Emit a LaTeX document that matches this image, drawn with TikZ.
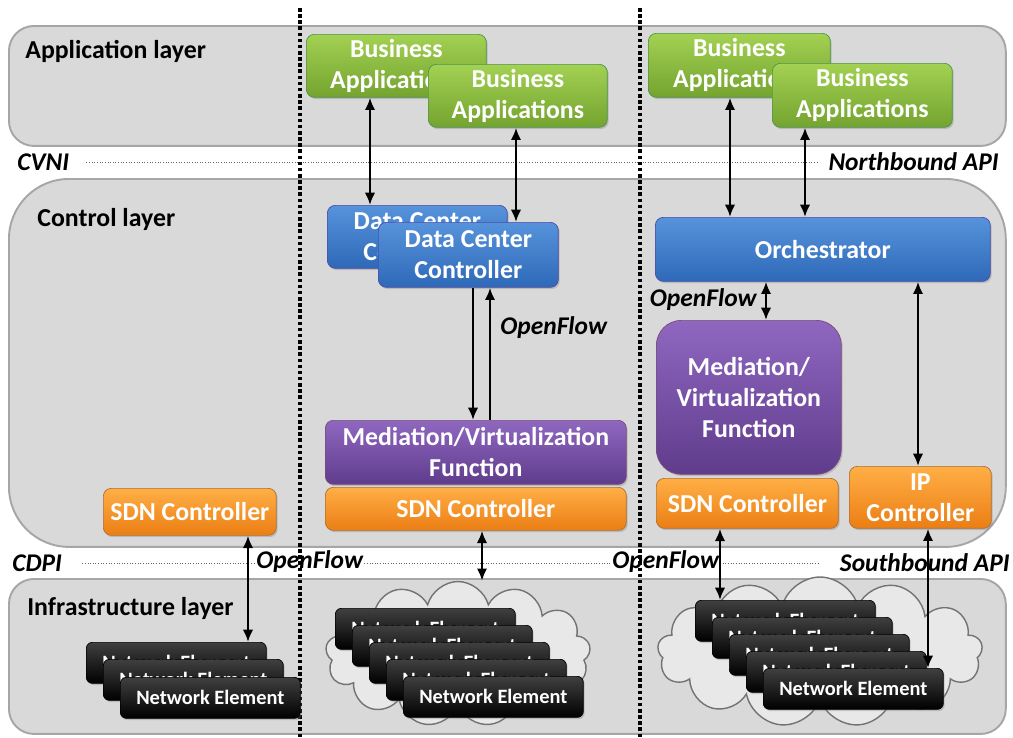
\documentclass[tikz,border=0pt]{standalone}
\usepackage{fontspec}
\setmainfont{Carlito}
\usetikzlibrary{shapes.symbols,shadows,arrows.meta}

\definecolor{fondcouche}{HTML}{D9D9D9}
\definecolor{bordcouche}{HTML}{A6A6A6}

\tikzstyle{couche} = [rectangle, draw=bordcouche, fill=fondcouche, line width=1.1pt, anchor=north west, inner sep=0pt]
\tikzstyle{titre} = [anchor=west, inner sep=0pt, font=\fontsize{14.7}{17}\selectfont\bfseries]
\tikzstyle{api} = [inner sep=0pt, font=\fontsize{14.5}{17}\selectfont\bfseries\itshape]
\tikzstyle{interface} = [draw=black!60, line width=0.5pt, densely dotted]
\tikzstyle{separation} = [line width=2pt, dash pattern=on 2pt off 1.5pt]
\tikzstyle{bloc} = [rectangle, rounded corners=0.16cm, anchor=north west, text=white, align=center, inner sep=1pt, line width=0.4pt, font=\fontsize{14.7}{17.6}\selectfont\bfseries, drop shadow={shadow xshift=0.8pt, shadow yshift=-1pt, opacity=0.35}]
\tikzstyle{appli} = [bloc, draw=green!40!black!70, top color={rgb,255:red,163;green,209;blue,82}, bottom color={rgb,255:red,116;green,163;blue,48}]
\tikzstyle{ctrl} = [bloc, draw=blue!50!black!70, top color={rgb,255:red,86;green,147;blue,219}, bottom color={rgb,255:red,46;green,105;blue,184}]
\tikzstyle{media} = [bloc, draw=violet!50!black!70, top color={rgb,255:red,143;green,103;blue,192}, bottom color={rgb,255:red,96;green,60;blue,140}]
\tikzstyle{sdn} = [bloc, draw=orange!60!black!80, top color={rgb,255:red,255;green,175;blue,70}, bottom color={rgb,255:red,235;green,126;blue,20}]
\tikzstyle{elem} = [bloc, rounded corners=0.12cm, draw=black, top color=black!75, bottom color=black, minimum width=3.6cm, minimum height=0.82cm, font=\fontsize{11.6}{13}\selectfont\bfseries]
\tikzstyle{nuage} = [cloud, cloud puffs=13, cloud ignores aspect, draw=black!55, fill=black!9, line width=0.8pt]
\tikzstyle{fleche} = [line width=1.5pt, >={Latex[length=7pt,width=6pt]}]

\begin{document}
\begin{tikzpicture}[x=0.02cm, y=-0.02cm]
\useasboundingbox (0,0) rectangle (1013,737);

% les trois couches
\node [couche, rounded corners=0.5cm, minimum width=19.94cm, minimum height=2.4cm] (applayer) at (8,25) {};
\node [couche, rounded corners=1.2cm, minimum width=19.94cm, minimum height=7.36cm] (ctrllayer) at (8,178) {};
\node [couche, rounded corners=0.5cm, minimum width=19.94cm, minimum height=3.1cm] (infralayer) at (8,578) {};
\node [titre] (appname) at (25,51) {Application layer};
\node [titre] (ctrlname) at (37,219) {Control layer};
\node [titre] (infraname) at (27,608) {Infrastructure layer};

% interfaces nord et sud
\node [api, anchor=west] (cvni) at (17,162) {CVNI};
\node [api, anchor=east] (nbapi) at (999,162) {Northbound API};
\node [api, anchor=west] (cdpi) at (12,563) {CDPI};
\node [api, anchor=east] (sbapi) at (1010,563) {Southbound API};
\draw [interface] ([xshift=0.34cm]cvni.east) -- ([xshift=-0.2cm]nbapi.west);
\draw [interface] ([xshift=0.4cm]cdpi.east) -- ([xshift=-0.4cm]sbapi.west);
\node [api, anchor=west, fill=white] (ofL) at (256,562) {OpenFlow};
\node [api, anchor=west, fill=white] (ofR) at (612,562) {OpenFlow};

\draw [separation] (300,8) -- (300,737);
\draw [separation] (640,8) -- (640,737);

% colonne de gauche
\node [sdn, minimum width=3.46cm, minimum height=0.94cm] (sdnL) at (103,488) {SDN Controller};
\node [elem] (neL1) at (86,642) {Network Element};
\node [elem] (neL2) at (103,659) {Network Element};
\node [elem] (neL3) at (120,677) {Network Element};

% colonne du milieu
\node [appli, minimum width=3.6cm, minimum height=1.26cm] (baM1) at (306,34) {Business\\Applications};
\node [appli, minimum width=3.58cm, minimum height=1.26cm] (baM2) at (428,64) {Business\\Applications};
\node [ctrl, minimum width=3.6cm, minimum height=1.26cm] (dcM1) at (327,205) {Data Center\\Controller};
\node [ctrl, minimum width=3.6cm, minimum height=1.3cm] (dcM2) at (378,222) {Data Center\\Controller};
\node [media, minimum width=6.02cm, minimum height=1.28cm] (medM) at (325,420) {Mediation/Virtualization\\Function};
\node [sdn, minimum width=6.02cm, minimum height=0.86cm] (sdnM) at (325,487) {SDN Controller};
\node [api, anchor=west] (ofM) at (500,328) {OpenFlow};
\node [nuage, minimum width=5.3cm, minimum height=2.9cm] (cloudM) at (458,654) {};
\node [elem] (neM1) at (335,608) {Network Element};
\node [elem] (neM2) at (352,625) {Network Element};
\node [elem] (neM3) at (369,642) {Network Element};
\node [elem] (neM4) at (386,659) {Network Element};
\node [elem] (neM5) at (403,676) {Network Element};

% colonne de droite
\node [appli, minimum width=3.64cm, minimum height=1.28cm] (baR1) at (648,33) {Business\\Applications};
\node [appli, minimum width=3.6cm, minimum height=1.28cm] (baR2) at (772,63) {Business\\Applications};
\node [ctrl, minimum width=6.7cm, minimum height=1.28cm] (orch) at (655,217) {Orchestrator};
\node [media, rounded corners=0.5cm, minimum width=3.7cm, minimum height=3.08cm] (medR) at (656,320) {Mediation/\\Virtualization\\Function};
\node [sdn, minimum width=3.64cm, minimum height=1cm] (sdnR) at (656,478) {SDN Controller};
\node [sdn, minimum width=2.84cm, minimum height=1.24cm] (ipR) at (849,466) {IP\\Controller};
\node [api, anchor=east] (ofO) at (757,300) {OpenFlow};
\node [nuage, minimum width=6.5cm, minimum height=3cm] (cloudR) at (820,652) {};
\node [elem] (neR1) at (695,600) {Network Element};
\node [elem] (neR2) at (712,617) {Network Element};
\node [elem] (neR3) at (729,634) {Network Element};
\node [elem] (neR4) at (746,651) {Network Element};
\node [elem] (neR5) at (763,668) {Network Element};

% liaisons
\draw [fleche, <->] (sdnL.south -| 248,0) -- (neL1.north -| 248,0);
\draw [fleche, <->] (baM1.south -| 370,0) -- (dcM1.north -| 370,0);
\draw [fleche, <->] (baM2.south -| 516,0) -- (dcM2.north -| 516,0);
\draw [fleche, ->] (dcM2.south -| 473,0) -- (medM.north -| 473,0);
\draw [fleche, ->] (medM.north -| 490,0) -- (dcM2.south -| 490,0);
\draw [fleche, <->] (sdnM.south -| 482,0) -- (cloudM.north -| 482,0);
\draw [fleche, <->] (baR1.south -| 730,0) -- (orch.north -| 730,0);
\draw [fleche, <->] (baR2.south -| 805,0) -- (orch.north -| 805,0);
\draw [fleche, <->] (orch.south -| 766,0) -- (medR.north -| 766,0);
\draw [fleche, <->] (orch.south -| 918,0) -- (ipR.north -| 918,0);
\draw [fleche, <->] (sdnR.south -| 720,0) -- (neR1.north -| 720,0);
\draw [fleche, <->] (ipR.south -| 928,0) -- (neR5.north -| 928,0);
\end{tikzpicture}
\end{document}
